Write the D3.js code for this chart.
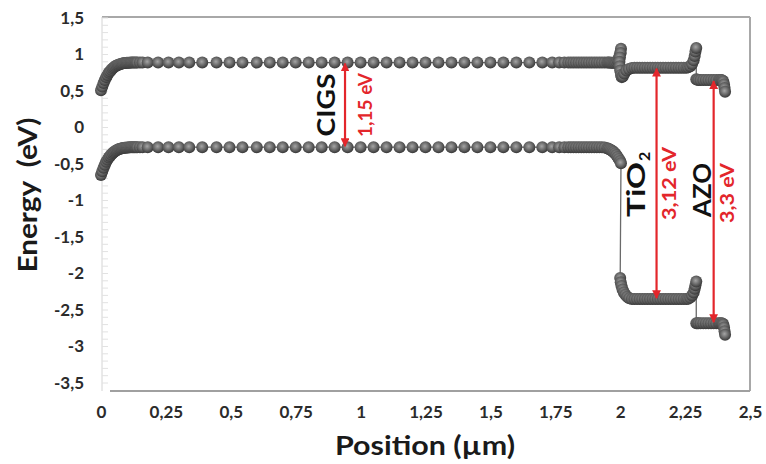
<!DOCTYPE html>
<html><head><meta charset="utf-8">
<script src="https://cdn.jsdelivr.net/npm/d3@7/dist/d3.min.js"></script>
<style>
html,body{margin:0;padding:0;background:#fff;}
svg{display:block;font-family:Lato,"Open Sans",sans-serif;}
</style></head>
<body><svg id="chart" width="766" height="464"></svg>
<script>
// ---------- data ----------
const xTicks = [0, 0.25, 0.5, 0.75, 1, 1.25, 1.5, 1.75, 2, 2.25, 2.5];
const xTickLabels = ["0","0,25","0,5","0,75","1","1,25","1,5","1,75","2","2,25","2,5"];
const yTicks = [1.5, 1, 0.5, 0, -0.5, -1, -1.5, -2, -2.5, -3, -3.5];
const yTickLabels = ["1,5","1","0,5","0","-0,5","-1","-1,5","-2","-2,5","-3","-3,5"];

// CIGS layer (conduction Ec and valence Ev band edges)
const cigsPos = [0,0.005,0.01,0.015,0.02,0.025,0.03,0.035,0.04,0.045,0.05,0.055,0.06,0.065,0.07,0.075,0.08,0.085,0.09,0.095,0.1,0.105,0.11,0.115,0.12,0.125,0.13,0.135,0.14,
  0.15,0.16,
  0.18,0.22,0.26,0.3,0.34,0.39,0.445,0.495,0.545,0.6,
  0.65,0.7,0.75,0.8,0.85,0.9,0.95,1,1.05,1.1,1.15,1.2,1.25,1.3,1.35,1.4,1.45,1.5,1.55,1.6,1.65,1.7,
  1.738,1.765,1.785,
  1.8,1.81,1.82,1.83,1.84,1.85,1.86,1.87,1.88,1.89,1.9,1.91,1.92,1.93,1.94,1.95,
  1.955,1.96,1.965,1.97,1.975,1.98,1.985,1.99,1.995,2.0,2.003];
const cigsEc = [0.51,0.56,0.61,0.65,0.69,0.72,0.75,0.77,0.79,0.81,0.825,0.838,0.848,0.857,0.864,0.87,0.875,0.879,0.882,0.884,0.886,0.887,0.888,0.889,0.89,0.89,0.89,0.89,0.89,
  0.89,0.89,
  0.89,0.89,0.89,0.89,0.89,0.89,0.89,0.89,0.89,0.89,
  0.89,0.89,0.89,0.89,0.89,0.89,0.89,0.89,0.89,0.89,0.89,0.89,0.89,0.89,0.89,0.89,0.89,0.89,0.89,0.89,0.89,0.89,
  0.89,0.89,0.89,
  0.89,0.89,0.89,0.89,0.89,0.89,0.89,0.89,0.89,0.89,0.89,0.89,0.89,0.89,0.89,0.89,
  0.89,0.89,0.888,0.886,0.886,0.89,0.9,0.92,0.96,1.02,1.08];
const cigsEv = [-0.65,-0.6,-0.55,-0.51,-0.47,-0.44,-0.41,-0.39,-0.37,-0.35,-0.335,-0.322,-0.312,-0.303,-0.296,-0.29,-0.285,-0.281,-0.278,-0.276,-0.274,-0.273,-0.272,-0.271,-0.27,-0.27,-0.27,-0.27,-0.27,
  -0.27,-0.27,
  -0.27,-0.27,-0.27,-0.27,-0.27,-0.27,-0.27,-0.27,-0.27,-0.27,
  -0.27,-0.27,-0.27,-0.27,-0.27,-0.27,-0.27,-0.27,-0.27,-0.27,-0.27,-0.27,-0.27,-0.27,-0.27,-0.27,-0.27,-0.27,-0.27,-0.27,-0.27,-0.27,
  -0.27,-0.27,-0.27,
  -0.27,-0.27,-0.27,-0.27,-0.27,-0.27,-0.27,-0.27,-0.27,-0.27,-0.27,-0.27,-0.27,-0.27,-0.275,-0.285,
  -0.292,-0.3,-0.31,-0.322,-0.337,-0.355,-0.378,-0.405,-0.43,-0.46,-0.49];

// TiO2 layer
const tio2PosEc = [2.002,1.999,1.997,1.998,2.0,2.003,2.006,2.01,2.016,2.024,2.034,2.045,
  2.055,2.065,2.075,2.085,2.095,2.105,2.115,2.125,2.135,2.145,2.155,2.165,2.175,2.185,2.195,2.205,2.215,2.225,2.235,2.245,2.255,
  2.262,2.27,2.277,2.283,2.287,2.29,2.293];
const tio2Ec = [1.02,0.96,0.9,0.84,0.78,0.72,0.69,0.7,0.74,0.78,0.8,0.815,
  0.82,0.82,0.82,0.82,0.82,0.82,0.82,0.82,0.82,0.82,0.82,0.82,0.82,0.82,0.82,0.82,0.82,0.82,0.82,0.82,0.82,
  0.825,0.84,0.87,0.92,0.98,1.04,1.09];
const tio2PosEv = [2.0,2.002,2.005,2.009,2.014,2.02,2.027,2.035,2.045,
  2.055,2.065,2.075,2.085,2.095,2.105,2.115,2.125,2.135,2.145,2.155,2.165,2.175,2.185,2.195,2.205,2.215,2.225,2.235,2.245,2.255,
  2.262,2.27,2.277,2.283,2.287,2.29,2.293];
const tio2Ev = [-2.06,-2.12,-2.17,-2.22,-2.26,-2.29,-2.32,-2.34,-2.35,
  -2.35,-2.35,-2.35,-2.35,-2.35,-2.35,-2.35,-2.35,-2.35,-2.35,-2.35,-2.35,-2.35,-2.35,-2.35,-2.35,-2.35,-2.35,-2.35,-2.35,-2.35,
  -2.345,-2.33,-2.3,-2.26,-2.21,-2.16,-2.11];

// AZO layer
const azoPos = [2.293,2.297,2.302,2.31,2.32,2.33,2.34,2.35,2.36,2.37,2.38,2.385,2.39,2.394,2.397,2.4,2.402,2.404];
const azoEc = [0.66,0.655,0.65,0.65,0.65,0.65,0.65,0.65,0.65,0.65,0.65,0.65,0.65,0.645,0.63,0.59,0.54,0.49];
const azoEv = [-2.68,-2.68,-2.68,-2.68,-2.68,-2.68,-2.68,-2.68,-2.68,-2.68,-2.68,-2.68,-2.68,-2.685,-2.7,-2.74,-2.79,-2.84];

// Band-gap annotations
const gapLabels = ["1,15 eV", "3,12 eV", "3,3 eV"];
const gapPos = [0.94, 2.14, 2.36];
const gapTop = [0.89, 0.82, 0.65];
const gapBottom = [-0.27, -2.35, -2.68];
const layerNames = ["CIGS", "TiO", "AZO"];
const layerSub = ["", "2", ""];

// ---------- drawing ----------
const svg = d3.select("#chart");
const x = d3.scaleLinear().domain([0, 2.5]).range([101, 750]);
const y = d3.scaleLinear().domain([1.5, -3.5]).range([18, 383]);
const RED = "#e3262b";

const defs = svg.append("defs");
const grad = defs.append("radialGradient").attr("id","bead").attr("cx","45%").attr("cy","42%").attr("r","55%");
grad.append("stop").attr("offset","0%").attr("stop-color","#a5a5a5");
grad.append("stop").attr("offset","55%").attr("stop-color","#6c6c6c");
grad.append("stop").attr("offset","100%").attr("stop-color","#3d3d3d");
const mk = defs.append("marker").attr("id","ah").attr("viewBox","0 0 10 10").attr("refX",9).attr("refY",5)
  .attr("markerWidth",4).attr("markerHeight",4).attr("orient","auto-start-reverse").attr("markerUnits","strokeWidth");
mk.append("path").attr("d","M0,0 L10,5 L0,10 Z").attr("fill",RED);

// frame
const x0 = x(0)+1, x1 = x(2.5), yTop = y(1.5)-1, yBot = y(-3.5)+8;
svg.append("line").attr("x1",x0).attr("x2",x0).attr("y1",yTop).attr("y2",yBot).attr("stroke","#d4d4d4").attr("stroke-width",1);
svg.append("line").attr("x1",x0).attr("x2",x1).attr("y1",yTop).attr("y2",yTop).attr("stroke","#a8a8a8").attr("stroke-width",2);
svg.append("line").attr("x1",x1).attr("x2",x1).attr("y1",yTop).attr("y2",yBot).attr("stroke","#a8a8a8").attr("stroke-width",2);
svg.append("line").attr("x1",x0+8).attr("x2",x1).attr("y1",yBot).attr("y2",yBot).attr("stroke","#a0a0a0").attr("stroke-width",2);

// faint minor ticks on left axis
const minor = d3.range(-35, 16).map(v => v/10);
svg.append("g").selectAll("line").data(minor).join("line")
  .attr("x1",x0).attr("x2",x0+6).attr("y1",d=>y(d)).attr("y2",d=>y(d))
  .attr("stroke","#e2e2e2").attr("stroke-width",1);

// axes
const yAxis = d3.axisLeft(y).tickValues(yTicks).tickFormat((d,i)=>yTickLabels[i]).tickSize(0).tickPadding(18);
const gy = svg.append("g").attr("transform",`translate(${x0},0)`).call(yAxis);
gy.select(".domain").remove();
gy.selectAll("text").attr("font-family","Lato, sans-serif").attr("font-weight","bold").attr("font-size",17).attr("fill","#2b2b2b");

const xAxis = d3.axisBottom(x).tickValues(xTicks).tickFormat((d,i)=>xTickLabels[i]).tickSize(0).tickPadding(15);
const gx = svg.append("g").attr("transform",`translate(0,${yBot})`).call(xAxis);
gx.select(".domain").remove();
gx.selectAll("text").attr("font-family","Lato, sans-serif").attr("font-weight","bold").attr("font-size",17).attr("fill","#2b2b2b");

// axis titles
svg.append("text").attr("transform",`translate(37,195) rotate(-90)`)
  .attr("text-anchor","middle").attr("font-weight","bold").attr("font-size",27).attr("fill","#1a1a1a")
  .attr("xml:space","preserve").attr("textLength",155).attr("lengthAdjust","spacingAndGlyphs").text("Energy  (eV)");
svg.append("text").attr("x",425).attr("y",455)
  .attr("text-anchor","middle").attr("font-weight","bold").attr("font-size",26).attr("fill","#1a1a1a")
  .attr("textLength",180).attr("lengthAdjust","spacingAndGlyphs").text("Position (µm)");

// band series
const zipPts = (px, py) => px.map((p,i)=>[p, py[i]]);
const ecPts = [].concat(zipPts(cigsPos,cigsEc), zipPts(tio2PosEc,tio2Ec), zipPts(azoPos,azoEc));
const evPts = [].concat(zipPts(cigsPos,cigsEv), zipPts(tio2PosEv,tio2Ev), zipPts(azoPos,azoEv));
const line = d3.line().x(d=>x(d[0])).y(d=>y(d[1]));
[ecPts, evPts].forEach(pts => {
  svg.append("path").attr("d", line(pts)).attr("fill","none").attr("stroke","#6a6a6a").attr("stroke-width",1.3);
  svg.append("g").selectAll("circle").data(pts).join("circle")
    .attr("cx",d=>x(d[0])).attr("cy",d=>y(d[1])).attr("r",6).attr("fill","url(#bead)");
});

// gap arrows
gapPos.forEach((g,i)=>{
  svg.append("line").attr("x1",x(g)).attr("x2",x(g)).attr("y1",y(gapTop[i])+1).attr("y2",y(gapBottom[i])-1)
    .attr("stroke",RED).attr("stroke-width",2.2)
    .attr("marker-start","url(#ah)").attr("marker-end","url(#ah)");
});

// labels (baseline position in data units, font size, length along the text)
const layerLabelPos = [[0.901, 0.308], [2.0955, -0.78], [2.35, -0.856]];
const layerLabelSize = [25, 25, 24];
const layerLabelLen = [63, 55, 54];
const gapLabelPos = [[1.044, 0.308], [2.215, -0.767], [2.438, -0.897]];
const gapLabelLen = [64, 73, 60];
layerNames.forEach((n,i)=>{
  const g = svg.append("g").attr("transform",`translate(${x(layerLabelPos[i][0])},${y(layerLabelPos[i][1])}) rotate(-90)`);
  const shift = layerSub[i] ? -5 : 0;
  g.append("text").attr("x",shift).attr("text-anchor","middle").attr("font-weight","bold")
    .attr("font-size",layerLabelSize[i]).attr("fill","#111")
    .attr("textLength",layerLabelLen[i]).attr("lengthAdjust","spacingAndGlyphs").text(n);
  if (layerSub[i]) g.append("text").attr("x",shift+layerLabelLen[i]/2+1).attr("y",5).attr("font-weight","bold")
    .attr("font-size",16).attr("fill","#111").text(layerSub[i]);
});
gapLabels.forEach((n,i)=>{
  svg.append("text").attr("transform",`translate(${x(gapLabelPos[i][0])},${y(gapLabelPos[i][1])}) rotate(-90)`)
    .attr("text-anchor","middle").attr("font-weight","bold").attr("font-size",19).attr("fill",RED)
    .attr("textLength",gapLabelLen[i]).attr("lengthAdjust","spacingAndGlyphs").text(n);
});
</script></body></html>
